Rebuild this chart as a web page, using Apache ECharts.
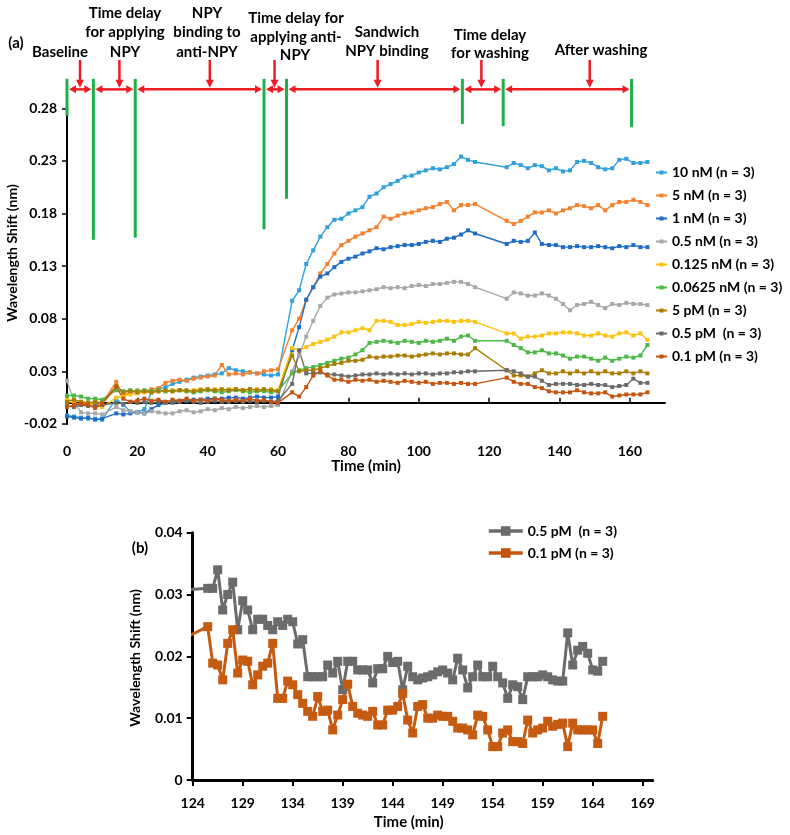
<!DOCTYPE html>
<html><head><meta charset="utf-8">
<script src="https://cdn.jsdelivr.net/npm/echarts@6/dist/echarts.min.js"></script>
<style>html,body{margin:0;padding:0;background:#fff}#c{width:790px;height:835px}</style>
</head><body><div id="c"></div>
<script>
// ---------- Panel (a) data ----------
const timesA = [0,2,4,6,8,10,
 14,16,18,20,22,24,26,28,30,32,34,36,38,40,42,44,46,48,50,52,54,56,58,60,
 64,66,68,70,72,74,76,78,80,82,84,86,88,90,92,94,96,98,100,102,104,106,108,110,112,114,116,
 125,127,129,131,133,135,137,139,141,143,145,147,149,151,153,155,157,159,161,163,165];

const s10nM = [-0.012,-0.013,-0.014,-0.015,-0.015,-0.016,
 0.004,-0.002,-0.008,-0.009,-0.006,0.010,0.013,0.015,0.018,0.020,0.022,0.024,0.025,0.026,0.027,0.028,0.033,0.031,0.030,0.029,0.028,0.027,0.026,0.027,
 0.097,0.107,0.132,0.145,0.158,0.167,0.174,0.175,0.180,0.183,0.186,0.196,0.199,0.205,0.208,0.211,0.215,0.216,0.219,0.221,0.223,0.222,0.224,0.227,0.234,0.231,0.229,
 0.224,0.228,0.226,0.223,0.226,0.225,0.221,0.223,0.220,0.221,0.229,0.230,0.228,0.224,0.222,0.223,0.231,0.232,0.228,0.228,0.229];
const s5nM = [0.001,0.000,-0.001,0.000,-0.002,0.000,
 0.020,0.007,0.010,0.012,0.011,0.013,0.014,0.019,0.021,0.022,0.021,0.023,0.024,0.025,0.026,0.036,0.027,0.028,0.027,0.029,0.028,0.030,0.031,0.032,
 0.069,0.080,0.098,0.110,0.123,0.132,0.142,0.150,0.154,0.158,0.161,0.164,0.167,0.177,0.175,0.178,0.180,0.181,0.183,0.185,0.186,0.189,0.191,0.183,0.188,0.188,0.189,
 0.173,0.170,0.173,0.177,0.181,0.181,0.183,0.180,0.183,0.185,0.188,0.187,0.185,0.188,0.183,0.188,0.191,0.191,0.193,0.191,0.188];
const s1nM = [-0.013,-0.014,-0.015,-0.014,-0.016,-0.015,
 -0.010,-0.011,-0.010,-0.009,-0.010,-0.006,-0.002,0.000,0.001,0.002,0.002,0.003,0.003,0.004,0.004,0.004,0.005,0.005,0.004,0.005,0.006,0.005,0.005,0.006,
 0.050,0.072,0.098,0.110,0.120,0.123,0.129,0.134,0.137,0.139,0.142,0.144,0.147,0.146,0.148,0.149,0.150,0.150,0.151,0.153,0.154,0.153,0.156,0.157,0.160,0.164,0.161,
 0.151,0.154,0.153,0.154,0.162,0.151,0.150,0.150,0.148,0.148,0.149,0.148,0.148,0.149,0.148,0.147,0.149,0.148,0.150,0.148,0.148];
const s05nM = [0.021,0.001,-0.009,-0.010,-0.010,-0.011,
 -0.004,-0.007,-0.008,-0.009,-0.010,-0.008,-0.009,-0.010,-0.010,-0.008,-0.007,-0.009,-0.008,-0.006,-0.007,-0.005,-0.006,-0.004,-0.005,-0.004,-0.003,-0.004,-0.003,-0.002,
 0.030,0.045,0.063,0.078,0.092,0.100,0.103,0.104,0.105,0.105,0.106,0.107,0.108,0.110,0.109,0.110,0.109,0.111,0.112,0.111,0.113,0.113,0.114,0.115,0.115,0.113,0.110,
 0.099,0.105,0.104,0.102,0.102,0.104,0.102,0.099,0.094,0.088,0.093,0.094,0.096,0.093,0.090,0.094,0.093,0.095,0.094,0.094,0.093];
const s0125nM = [0.003,0.002,0.001,0.000,-0.002,-0.004,
 0.005,0.006,0.008,0.009,0.010,0.010,0.011,0.011,0.012,0.012,0.011,0.012,0.013,0.012,0.013,0.012,0.013,0.013,0.012,0.013,0.013,0.012,0.013,0.012,
 0.052,0.050,0.053,0.056,0.058,0.060,0.063,0.067,0.067,0.069,0.071,0.069,0.078,0.078,0.077,0.074,0.074,0.075,0.077,0.076,0.077,0.078,0.078,0.077,0.078,0.078,0.077,
 0.066,0.066,0.061,0.063,0.063,0.064,0.066,0.066,0.067,0.067,0.066,0.064,0.064,0.066,0.064,0.063,0.066,0.067,0.064,0.066,0.060];
const s00625nM = [0.007,0.007,0.006,0.004,0.004,0.003,
 0.012,0.011,0.012,0.011,0.012,0.011,0.012,0.011,0.011,0.012,0.011,0.010,0.011,0.012,0.011,0.010,0.011,0.012,0.011,0.010,0.011,0.011,0.010,0.011,
 0.028,0.031,0.033,0.034,0.036,0.038,0.040,0.042,0.043,0.046,0.050,0.057,0.058,0.059,0.058,0.057,0.059,0.058,0.057,0.059,0.058,0.059,0.061,0.059,0.063,0.064,0.059,
 0.059,0.055,0.052,0.048,0.048,0.050,0.047,0.047,0.045,0.042,0.044,0.044,0.042,0.040,0.043,0.040,0.042,0.044,0.043,0.045,0.055];
const s5pM = [0.001,0.003,0.001,0.000,0.001,0.000,
 0.016,0.010,0.011,0.010,0.011,0.010,0.011,0.012,0.011,0.012,0.012,0.011,0.012,0.013,0.012,0.013,0.012,0.013,0.012,0.013,0.012,0.013,0.012,0.011,
 0.045,0.030,0.031,0.031,0.033,0.035,0.037,0.038,0.040,0.040,0.041,0.044,0.043,0.044,0.044,0.045,0.045,0.044,0.045,0.046,0.047,0.046,0.047,0.047,0.046,0.046,0.052,
 0.031,0.026,0.026,0.025,0.028,0.031,0.028,0.028,0.030,0.028,0.030,0.028,0.030,0.028,0.030,0.028,0.028,0.030,0.028,0.030,0.028];
const s05pM = [-0.003,-0.004,-0.002,-0.003,-0.003,-0.002,
 0.000,-0.001,0.001,0.000,0.001,0.000,0.001,0.001,0.000,0.001,0.002,0.001,0.000,0.001,0.002,0.001,0.001,0.002,0.001,0.002,0.001,0.002,0.001,0.002,
 0.018,0.050,0.028,0.028,0.029,0.027,0.027,0.026,0.025,0.026,0.027,0.027,0.028,0.027,0.028,0.027,0.028,0.027,0.028,0.028,0.027,0.028,0.028,0.029,0.029,0.030,0.030,
 0.031,0.030,0.028,0.025,0.025,0.021,0.017,0.018,0.018,0.018,0.017,0.017,0.018,0.017,0.017,0.015,0.016,0.017,0.023,0.019,0.019];
const s01pM = [-0.004,-0.002,-0.001,-0.002,-0.005,-0.001,
 0.015,0.004,0.001,0.002,0.004,0.002,0.003,0.001,0.003,0.002,0.004,0.002,0.003,0.002,0.004,0.003,0.002,0.003,0.002,0.004,0.002,0.003,0.001,0.000,
 0.010,0.006,0.015,0.026,0.030,0.026,0.022,0.022,0.020,0.022,0.021,0.022,0.020,0.021,0.020,0.019,0.021,0.020,0.019,0.020,0.018,0.019,0.019,0.018,0.019,0.018,0.018,
 0.024,0.020,0.018,0.018,0.015,0.014,0.011,0.010,0.010,0.010,0.012,0.010,0.009,0.009,0.010,0.006,0.007,0.008,0.008,0.008,0.010];

const namesA = ['10 nM (n = 3)','5 nM (n = 3)','1 nM (n = 3)','0.5 nM (n = 3)','0.125 nM (n = 3)','0.0625 nM (n = 3)','5 pM (n = 3)','0.5 pM  (n = 3)','0.1 pM (n = 3)'];
const valuesA = [s10nM, s5nM, s1nM, s05nM, s0125nM, s00625nM, s5pM, s05pM, s01pM];
const colorsA = ['#31A0DB','#F5802E','#1F6DC7','#A8A8A8','#FFC20E','#4DB748','#A97D05','#6B6B6B','#C4540F'];
const xTicksA = [0,20,40,60,80,100,120,140,160];
const yTicksA = [-0.02,0.03,0.08,0.13,0.18,0.23,0.28];

// phase annotations (panel a)
const phaseT = [0, 7.5, 19.4, 56, 62.4, 112.4, 124, 160.5];
const phaseLow = [0.273, 0.155, 0.157, 0.165, 0.194, 0.265, 0.263, 0.262];
const pointerT = [3.7, 14.9, 40.6, 59, 88.3, 117.8, 148.6];

// ---------- Panel (b) data ----------
const timesB = [117,125.5,126,126.5,127,127.5,128,128.5,129,129.5,130,
 130.5,131,131.5,132,132.5,133,133.5,134,134.5,135,
 135.5,136,136.5,137,137.5,138,138.5,139,139.5,140,
 140.5,141,141.5,142,142.5,143,143.5,144,144.5,145,
 145.5,146,146.5,147,147.5,148,148.5,149,149.5,150,
 150.5,151,151.5,152,152.5,153,153.5,154,154.5,155,
 155.5,156,156.5,157,157.5,158,158.5,159,159.5,160,
 160.5,161,161.5,162,162.5,163,163.5,164,164.5,165];
const grayB = [0.030,
 0.031,0.031,0.034,0.0275,0.030,0.032,0.0243,0.029,0.0275,0.0243,
 0.026,0.026,0.025,0.0243,0.0256,0.025,0.026,0.0256,0.022,0.0227,
 0.0167,0.0167,0.0167,0.0167,0.0186,0.0173,0.0192,0.0146,0.0192,0.0192,
 0.0178,0.0178,0.0178,0.0157,0.018,0.018,0.020,0.019,0.0192,0.0146,
 0.0184,0.0167,0.0162,0.0165,0.0167,0.017,0.0175,0.0178,0.0173,0.0162,
 0.0197,0.0178,0.0149,0.0167,0.0186,0.0167,0.0167,0.0184,0.0167,0.0157,
 0.0132,0.0154,0.0151,0.013,0.0167,0.0167,0.0167,0.017,0.0167,0.0162,
 0.016,0.016,0.0238,0.0186,0.021,0.0216,0.0205,0.0178,0.0176,0.0192];
const orangeB = [0.018,
 0.0248,0.0189,0.0186,0.0162,0.0221,0.0243,0.0173,0.0194,0.0192,0.0154,
 0.0170,0.0184,0.0189,0.0221,0.0132,0.0132,0.0160,0.0154,0.0138,0.0124,
 0.0111,0.0103,0.0135,0.0111,0.0113,0.0081,0.0105,0.0130,0.0155,0.0119,
 0.0108,0.0105,0.0103,0.0111,0.0089,0.0089,0.0113,0.0113,0.0119,0.0140,
 0.0097,0.0076,0.0119,0.0122,0.0100,0.0100,0.0105,0.0103,0.0103,0.0095,
 0.0084,0.0084,0.0081,0.0073,0.0105,0.0103,0.0081,0.0054,0.0054,0.0076,
 0.0081,0.0062,0.0062,0.0059,0.0097,0.0076,0.0081,0.0084,0.0095,0.0087,
 0.0090,0.0092,0.0054,0.0092,0.0081,0.0081,0.0081,0.0081,0.0059,0.0103];
const namesB = ['0.5 pM  (n = 3)','0.1 pM (n = 3)'];
const colorsB = ['#6B6B6B','#C55A11'];
const xTicksB = [124,129,134,139,144,149,154,159,164,169];

// ---------- chart ----------
const FONT = 'Lato';
const lbl = {fontFamily: FONT, fontWeight: 'bold', fontSize: 14, color: '#000'};
const chart = echarts.init(document.getElementById('c'));

const seriesA = namesA.map((n, i) => ({
  type: 'line', name: n, xAxisIndex: 0, yAxisIndex: 0,
  data: timesA.map((t, j) => [t, valuesA[i][j]]),
  symbol: 'rect', symbolSize: 4, color: colorsA[i],
  lineStyle: {width: 1.4, color: colorsA[i]}, itemStyle: {color: colorsA[i]},
  emphasis: {disabled: true}
}));
const seriesB = namesB.map((n, i) => ({
  type: 'line', name: n, xAxisIndex: 1, yAxisIndex: 1,
  data: timesB.map((t, j) => [t, (i === 0 ? grayB : orangeB)[j]]),
  symbol: 'rect', symbolSize: 9, color: colorsB[i], clip: true,
  lineStyle: {width: 3, color: colorsB[i]}, itemStyle: {color: colorsB[i]},
  emphasis: {disabled: true}
}));

chart.setOption({
  animation: false,
  backgroundColor: '#fff',
  grid: [
    {left: 67, top: 108.3, width: 598, height: 315.6, outerBoundsMode: 'none'},
    {left: 192.7, top: 532.7, width: 460, height: 247.3, outerBoundsMode: 'none'}
  ],
  xAxis: [
    {gridIndex: 0, type: 'value', min: 0, max: 170,
     name: 'Time (min)', nameLocation: 'middle', nameGap: 35, nameMoveOverlap: false,
     nameTextStyle: {fontFamily: FONT, fontWeight: 'bold', fontSize: 15, color: '#000'},
     axisLine: {show: true, onZero: true, lineStyle: {color: '#000', width: 2}},
     axisTick: {show: true, inside: true, length: 5, customValues: xTicksA, lineStyle: {color: '#000', width: 1.5}},
     axisLabel: Object.assign({customValues: xTicksA, margin: 21, hideOverlap: false}, lbl),
     splitLine: {show: false}},
    {gridIndex: 1, type: 'value', min: 124, max: 170,
     name: 'Time (min)', nameLocation: 'middle', nameGap: 35, nameMoveOverlap: false,
     nameTextStyle: {fontFamily: FONT, fontWeight: 'bold', fontSize: 15, color: '#000', padding: [0, 28, 0, 0]},
     axisLine: {show: true, onZero: false, lineStyle: {color: '#000', width: 3}},
     axisTick: {show: true, length: 6, customValues: xTicksB, lineStyle: {color: '#000', width: 2}},
     axisLabel: Object.assign({customValues: xTicksB, margin: 16}, lbl),
     splitLine: {show: false}}
  ],
  yAxis: [
    {gridIndex: 0, type: 'value', min: -0.02, max: 0.28,
     axisLine: {show: true, onZero: false, lineStyle: {color: '#000', width: 2}},
     axisTick: {show: true, length: 5, customValues: yTicksA, lineStyle: {color: '#000', width: 1.5}},
     axisLabel: Object.assign({customValues: yTicksA, margin: 10, formatter: v => v.toFixed(2)}, lbl),
     splitLine: {show: false}},
    {gridIndex: 1, type: 'value', min: 0, max: 0.04, interval: 0.01,
     axisLine: {show: true, onZero: false, lineStyle: {color: '#000', width: 3}},
     axisTick: {show: true, length: 6, lineStyle: {color: '#000', width: 2}},
     axisLabel: Object.assign({margin: 10, formatter: v => v === 0 ? '0' : v.toFixed(2)}, lbl),
     splitLine: {show: false}}
  ],
  legend: [
    {data: namesA, orient: 'vertical', left: 655, top: 164.5, padding: 0,
     itemWidth: 11, itemHeight: 5, itemGap: 7, selectedMode: false,
     textStyle: Object.assign({lineHeight: 16}, lbl)},
    {data: namesB, orient: 'vertical', left: 487, top: 523, padding: 0,
     itemWidth: 34, itemHeight: 12, itemGap: 6, selectedMode: false,
     lineStyle: {width: 3.5}, textStyle: Object.assign({lineHeight: 16}, lbl)}
  ],
  series: seriesA.concat(seriesB)
});

// ---------- annotations ----------
const P = (t, v) => chart.convertToPixel({xAxisIndex: 0, yAxisIndex: 0}, [t, v]);
const RED = '#ED1C24', GREEN = '#1FB04B';
const g = [];
const topV = 0.308, spanV = 0.298, ptrTopV = 0.326, ptrTipV = 0.2995;
phaseT.forEach((t, i) => {
  const a = P(t, topV), b = P(t, phaseLow[i]);
  g.push({type: 'line', z: 100, shape: {x1: a[0], y1: a[1], x2: b[0], y2: b[1]}, style: {stroke: GREEN, lineWidth: 3}});
});
for (let i = 0; i < phaseT.length - 1; i++) {
  const a = P(phaseT[i], spanV), b = P(phaseT[i + 1], spanV);
  const x1 = a[0] + 2, x2 = b[0] - 2, y = a[1];
  g.push({type: 'line', z: 99, shape: {x1: x1 + 5, y1: y, x2: x2 - 5, y2: y}, style: {stroke: RED, lineWidth: 2.5}});
  g.push({type: 'polygon', z: 99, shape: {points: [[x1, y], [x1 + 7, y - 4], [x1 + 7, y + 4]]}, style: {fill: RED}});
  g.push({type: 'polygon', z: 99, shape: {points: [[x2, y], [x2 - 7, y - 4], [x2 - 7, y + 4]]}, style: {fill: RED}});
}
pointerT.forEach(t => {
  const a = P(t, ptrTopV), b = P(t, ptrTipV);
  g.push({type: 'line', z: 99, shape: {x1: a[0], y1: a[1], x2: b[0], y2: b[1] - 6}, style: {stroke: RED, lineWidth: 2.5}});
  g.push({type: 'polygon', z: 99, shape: {points: [[b[0], b[1]], [b[0] - 4, b[1] - 8], [b[0] + 4, b[1] - 8]]}, style: {fill: RED}});
});
const texts = [
  ['(a)', 16, 43], ['Baseline', 60, 52],
  ['Time delay', 125, 13], ['for applying', 125, 32], ['NPY', 125, 52],
  ['NPY', 207, 13], ['binding to', 207, 32], ['anti-NPY', 207, 52],
  ['Time delay for', 296, 18], ['applying anti-', 296, 37], ['NPY', 295, 55],
  ['Sandwich', 387, 32], ['NPY binding', 387, 51],
  ['Time delay', 490, 35], ['for washing', 490, 53],
  ['After washing', 601, 50],
  ['(b)', 140, 548]
];
texts.forEach(([s, x, y]) => g.push({type: 'text', z: 101, x: x, y: y,
  style: {text: s, font: 'bold 15px ' + FONT, fill: '#000', align: 'center', verticalAlign: 'middle'}}));
[[12, 253], [135, 658]].forEach(([x, y]) => g.push({type: 'text', z: 101, x: x, y: y, rotation: Math.PI / 2,
  style: {text: 'Wavelength Shift (nm)', font: 'bold 14px ' + FONT, fill: '#000', align: 'center', verticalAlign: 'middle'}}));
chart.setOption({graphic: g});
</script>
</body></html>
